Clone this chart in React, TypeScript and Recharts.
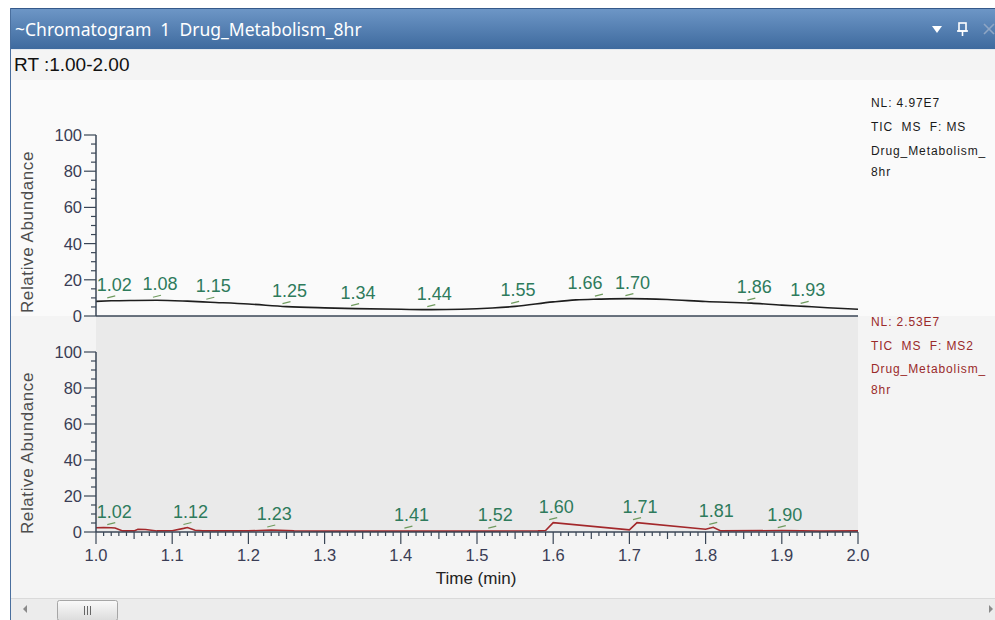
import React from 'react'
import { LineChart, Line, XAxis, YAxis, LabelList } from 'recharts'

// MS trace (top) – retention time (min) and relative abundance (%)
const topTimes = [1.0, 1.02, 1.05, 1.08, 1.12, 1.15, 1.2, 1.25, 1.3, 1.34, 1.4, 1.44, 1.48, 1.52, 1.55, 1.6, 1.63, 1.66, 1.7, 1.75, 1.8, 1.86, 1.9, 1.93, 1.96, 2.0]
const topValues = [8.1, 8.4, 8.6, 8.7, 8.2, 7.6, 6.6, 5.2, 4.5, 4.1, 3.7, 3.5, 3.7, 4.4, 5.3, 7.8, 8.9, 9.3, 9.6, 9.1, 8.0, 7.1, 6.0, 5.3, 4.6, 3.7]
const topPeaks = [1.02, 1.08, 1.15, 1.25, 1.34, 1.44, 1.55, 1.66, 1.7, 1.86, 1.93]

// MS2 trace (bottom)
const bottomTimes = [1.0, 1.01, 1.02, 1.025, 1.035, 1.05, 1.055, 1.065, 1.08, 1.1, 1.115, 1.12, 1.13, 1.14, 1.2, 1.23, 1.26, 1.3, 1.41, 1.52, 1.58, 1.59, 1.6, 1.7, 1.71, 1.8, 1.81, 1.82, 1.9, 1.95, 2.0]
const bottomValues = [2.4, 2.5, 2.4, 2.2, 0.6, 0.6, 1.5, 1.4, 0.6, 0.7, 2.0, 2.5, 1.0, 0.6, 0.6, 1.1, 0.6, 0.5, 0.5, 0.5, 0.6, 0.8, 5.2, 1.2, 5.2, 1.5, 2.6, 0.6, 0.8, 0.5, 0.6]
const bottomPeaks = [1.02, 1.12, 1.23, 1.41, 1.52, 1.6, 1.71, 1.81, 1.9]

const xMajorTicks = [1.0, 1.1, 1.2, 1.3, 1.4, 1.5, 1.6, 1.7, 1.8, 1.9, 2.0]
const yMajorTicks = [0, 20, 40, 60, 80, 100]

const topInfo = ['NL: 4.97E7', 'TIC  MS  F: MS', 'Drug_Metabolism_', '8hr']
const bottomInfo = ['NL: 2.53E7', 'TIC  MS  F: MS2', 'Drug_Metabolism_', '8hr']

const ARIAL = '"Liberation Sans", Arial, sans-serif'
const AXIS = '#3a4656'
const TICK_TEXT = '#3a3d55'
const PEAK_TEXT = '#2e7b5c'

// minor tick positions (not data)
const xMinor: number[] = []
for (let i = 0; i <= 100; i++) xMinor.push(Math.round((1 + i * 0.01) * 1000) / 1000)
const yMinor: number[] = []
for (let i = 0; i <= 20; i++) yMinor.push(i * 5)

// peak labels that crowd the next one get nudged left, like the instrument software does
const build = (times: number[], vals: number[], peaks: number[]) =>
  times.map((t, i) => {
    const isPeak = peaks.includes(t)
    const crowded = isPeak && peaks.some(p => p > t && p - t < 0.05)
    return { t, v: vals[i], peak: isPeak ? t.toFixed(2) + (crowded ? '|L' : '') : null }
  })

const topData = build(topTimes, topValues, topPeaks)
const bottomData = build(bottomTimes, bottomValues, bottomPeaks)

function XTick(props: any) {
  const { x, y, payload } = props
  const v = payload.value as number
  const major = xMajorTicks.some(m => Math.abs(m - v) < 1e-6)
  const mid = !major && Math.abs(v * 20 - Math.round(v * 20)) < 1e-6
  const len = major ? 12 : mid ? 7 : 4
  return (
    <g>
      <line x1={x} y1={y} x2={x} y2={y + len} stroke={AXIS} strokeWidth={1.2} />
      {major && (
        <text x={x} y={y + 29} textAnchor="middle" fontSize={16.5} fontFamily={ARIAL} fill={TICK_TEXT}>
          {v.toFixed(1)}
        </text>
      )}
    </g>
  )
}

function YTick(props: any) {
  const { x, y, payload } = props
  const v = payload.value as number
  const major = yMajorTicks.includes(v)
  const len = major ? 12 : 5
  return (
    <g>
      <line x1={x - len} y1={y} x2={x} y2={y} stroke={AXIS} strokeWidth={1.2} />
      {major && (
        <text x={x - 14} y={y + 6} textAnchor="end" fontSize={16.5} fontFamily={ARIAL} fill={TICK_TEXT}>
          {v}
        </text>
      )}
    </g>
  )
}

function PeakLabel(props: any) {
  const { x, y, value } = props
  if (value == null || x == null || y == null) return null
  const [txt, flag] = String(value).split('|')
  const dx = flag === 'L' ? -14 : 3
  return (
    <g>
      <line x1={x - 4} y1={y - 3} x2={x + 4} y2={y - 5} stroke="#6f9a5e" strokeWidth={1.2} />
      <text x={x + dx} y={y - 10} textAnchor="middle" fontSize={18} fontFamily={ARIAL} fill={PEAK_TEXT}>
        {txt}
      </text>
    </g>
  )
}

function Chromatogram({ data, color, showTime, curve }: { data: any[]; color: string; showTime: boolean; curve: 'monotone' | 'linear' }) {
  return (
    <LineChart
      width={880}
      height={showTime ? 245 : 210}
      data={data}
      margin={{ top: 15, right: 22, bottom: showTime ? 0 : 10, left: 0 }}
    >
      <XAxis
        dataKey="t"
        type="number"
        domain={[1, 2]}
        ticks={showTime ? xMinor : []}
        interval={0}
        tick={showTime ? <XTick /> : false}
        tickSize={0}
        tickMargin={0}
        tickLine={false}
        height={showTime ? 50 : 4}
        axisLine={{ stroke: AXIS, strokeWidth: 1.5 }}
      />
      <YAxis
        type="number"
        domain={[0, 100]}
        ticks={yMinor}
        interval={0}
        tick={<YTick />}
        tickSize={0}
        tickMargin={0}
        tickLine={false}
        width={96}
        axisLine={{ stroke: AXIS, strokeWidth: 1.5 }}
      />
      <Line type={curve} dataKey="v" stroke={color} strokeWidth={1.6} dot={false} isAnimationActive={false}>
        <LabelList dataKey="peak" content={<PeakLabel />} />
      </Line>
    </LineChart>
  )
}

export default function App() {
  return (
    <div style={{ position: 'absolute', left: 0, top: 0, width: 995, height: 620, background: '#fff', overflow: 'hidden' }}>
      <svg width={995} height={620} style={{ position: 'absolute', left: 0, top: 0 }}>
        <defs>
          <linearGradient id="titleBar" x1="0" y1="0" x2="0" y2="1">
            <stop offset="0%" stopColor="#6e97c7" />
            <stop offset="100%" stopColor="#3e6a9e" />
          </linearGradient>
          <linearGradient id="thumb" x1="0" y1="0" x2="0" y2="1">
            <stop offset="0%" stopColor="#fafafa" />
            <stop offset="100%" stopColor="#dcdcdc" />
          </linearGradient>
        </defs>
        {/* content backgrounds */}
        <rect x={10} y={49} width={985} height={571} fill="#f4f4f4" />
        <rect x={11} y={80} width={984} height={236} fill="#fafafa" />
        <rect x={96} y={316} width={762} height={216} fill="#eaeaea" />
        {/* title bar */}
        <rect x={10} y={8} width={985} height={41} fill="url(#titleBar)" />
        <line x1={10} y1={8.5} x2={995} y2={8.5} stroke="#35598a" />
        <line x1={10} y1={49.5} x2={995} y2={49.5} stroke="#e4e9ef" />
        <line x1={10.5} y1={8} x2={10.5} y2={620} stroke="#4a6f9e" />
        <text x={15} y={36} fontSize={17.5} fontFamily='"Noto Sans", "Open Sans", sans-serif' fill="#fff" style={{ whiteSpace: 'pre' }}>
          {'~Chromatogram  1  Drug_Metabolism_8hr'}
        </text>
        <polygon points="932,26 942,26 937,33" fill="#fff" />
        <rect x={959} y={23} width={7} height={8} fill="none" stroke="#fff" strokeWidth={1.6} />
        <line x1={957} y1={31} x2={968} y2={31} stroke="#fff" strokeWidth={1.6} />
        <line x1={962.5} y1={31} x2={962.5} y2={36} stroke="#fff" strokeWidth={1.6} />
        <line x1={984} y1={24} x2={994} y2={34} stroke="#8fa6c4" strokeWidth={1.6} />
        <line x1={994} y1={24} x2={984} y2={34} stroke="#8fa6c4" strokeWidth={1.6} />
        {/* range text */}
        <text x={14} y={71} fontSize={19} fontFamily={ARIAL} fill="#111">RT :1.00-2.00</text>
        {/* axis titles */}
        <text x={0} y={0} transform="translate(33,232) rotate(-90)" textAnchor="middle" fontSize={17} letterSpacing={0.6} fontFamily={ARIAL} fill="#4d4d4d">
          Relative Abundance
        </text>
        <text x={0} y={0} transform="translate(33,453) rotate(-90)" textAnchor="middle" fontSize={17} letterSpacing={0.6} fontFamily={ARIAL} fill="#4d4d4d">
          Relative Abundance
        </text>
        <text x={476} y={584} textAnchor="middle" fontSize={17} fontFamily={ARIAL} fill="#222">Time (min)</text>
        {/* trace info */}
        {topInfo.map((s, i) => (
          <text key={'t' + i} x={871} y={[107, 131, 155, 176][i]} fontSize={12} letterSpacing={0.9} fontFamily={ARIAL} fill="#1a1a1a" style={{ whiteSpace: 'pre' }}>
            {s}
          </text>
        ))}
        {bottomInfo.map((s, i) => (
          <text key={'b' + i} x={871} y={[326, 350, 373, 394][i]} fontSize={12} letterSpacing={0.9} fontFamily={ARIAL} fill="#9a2a2a" style={{ whiteSpace: 'pre' }}>
            {s}
          </text>
        ))}
        {/* scrollbar */}
        <rect x={11} y={598} width={984} height={22} fill="#ececec" />
        <line x1={11} y1={598.5} x2={995} y2={598.5} stroke="#dadada" />
        <polygon points="27,605 27,613 23,609" fill="#8a8a8a" />
        <polygon points="989,605 989,613 993,609" fill="#8a8a8a" />
        <rect x={57.5} y={600.5} width={60} height={20} rx={2} fill="url(#thumb)" stroke="#a6a6a6" />
        <line x1={84.5} y1={606} x2={84.5} y2={615} stroke="#666" />
        <line x1={87.5} y1={606} x2={87.5} y2={615} stroke="#666" />
        <line x1={90.5} y1={606} x2={90.5} y2={615} stroke="#666" />
      </svg>
      <div style={{ position: 'absolute', left: 0, top: 120 }}>
        <Chromatogram data={topData} color="#1e1e1e" showTime={false} curve="monotone" />
      </div>
      <div style={{ position: 'absolute', left: 0, top: 337 }}>
        <Chromatogram data={bottomData} color="#a3282b" showTime={true} curve="linear" />
      </div>
    </div>
  )
}
